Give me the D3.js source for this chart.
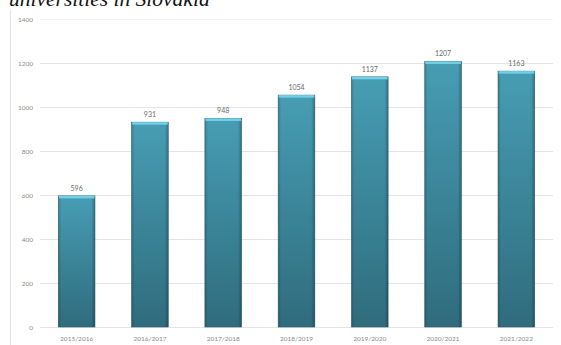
<!DOCTYPE html>
<html>
<head>
<meta charset="utf-8">
<script src="https://cdn.jsdelivr.net/npm/d3@7"></script>
<style>
  html, body { margin: 0; padding: 0; background: #fff; }
  svg { display: block; }
</style>
</head>
<body>
<svg id="chart" width="561" height="345"></svg>
<script>
// Academic years and the student counts shown above each bar
const years = ["2015/2016", "2016/2017", "2017/2018", "2018/2019", "2019/2020", "2020/2021", "2021/2022"];
const counts = [596, 931, 948, 1054, 1137, 1207, 1163];
const yTicks = [0, 200, 400, 600, 800, 1000, 1200, 1400];

const svg = d3.select("#chart");
const W = 561, H = 345;
const plot = { left: 40, right: 553, top: 19, bottom: 327 };

const x = d3.scaleBand().domain(years).range([plot.left, plot.right]).paddingInner(0.5).paddingOuter(0.25);
const y = d3.scaleLinear().domain([0, 1400]).range([plot.bottom, plot.top]);

// Title, running off the top edge of the frame
svg.append("text")
  .attr("x", 9).attr("y", 6)
  .attr("font-family", "Liberation Serif, Times New Roman, serif")
  .attr("font-style", "italic")
  .attr("font-size", 21.5)
  .attr("fill", "#111")
  .text("universities in Slovakia");

// Chart frame edge on the left
svg.append("line")
  .attr("x1", 10.5).attr("x2", 10.5).attr("y1", 10).attr("y2", H)
  .attr("stroke", "#e2e2e2").attr("stroke-width", 1);

// Gradients for the bars
const defs = svg.append("defs");
const g1 = defs.append("linearGradient").attr("id", "barFill").attr("x1", 0).attr("x2", 0).attr("y1", 0).attr("y2", 1);
g1.append("stop").attr("offset", "0%").attr("stop-color", "#479db4");
g1.append("stop").attr("offset", "100%").attr("stop-color", "#2f6c7d");
const g2 = defs.append("linearGradient").attr("id", "barSide").attr("x1", 0).attr("x2", 1).attr("y1", 0).attr("y2", 0);
g2.append("stop").attr("offset", "0%").attr("stop-color", "#000").attr("stop-opacity", 0.18);
g2.append("stop").attr("offset", "8%").attr("stop-color", "#000").attr("stop-opacity", 0);
g2.append("stop").attr("offset", "90%").attr("stop-color", "#000").attr("stop-opacity", 0);
g2.append("stop").attr("offset", "100%").attr("stop-color", "#000").attr("stop-opacity", 0.25);

// Gridlines and y axis
const yAxis = d3.axisLeft(y).tickValues(yTicks).tickSize(-(plot.right - plot.left)).tickPadding(7).tickFormat(d3.format("d"));
const ya = svg.append("g").attr("transform", `translate(${plot.left},0)`).call(yAxis);
ya.select(".domain").remove();
ya.selectAll(".tick line").attr("stroke", "#e4e4e4").attr("stroke-width", 1);
ya.selectAll(".tick").filter(d => d === 1400).select("line").attr("stroke", "#f3f3f3");
ya.selectAll(".tick text")
  .attr("fill", "#8a8a8a")
  .attr("font-family", "Lato, Open Sans, sans-serif")
  .attr("font-size", 6.5);

// Bars
const bars = svg.append("g");
bars.selectAll("rect.bar").data(counts).join("rect")
  .attr("class", "bar")
  .attr("x", (d, i) => x(years[i]))
  .attr("width", x.bandwidth())
  .attr("y", d => y(d))
  .attr("height", d => y(0) - y(d))
  .attr("fill", "url(#barFill)")
  .attr("stroke", "#2b6372").attr("stroke-width", 0.6);
bars.selectAll("rect.side").data(counts).join("rect")
  .attr("class", "side")
  .attr("x", (d, i) => x(years[i]))
  .attr("width", x.bandwidth())
  .attr("y", d => y(d))
  .attr("height", d => y(0) - y(d))
  .attr("fill", "url(#barSide)");
bars.selectAll("rect.cap").data(counts).join("rect")
  .attr("class", "cap")
  .attr("x", (d, i) => x(years[i]) + 0.5)
  .attr("width", x.bandwidth() - 1)
  .attr("y", d => y(d))
  .attr("height", 2.5)
  .attr("fill", "#72d0e8");

// Value labels
svg.append("g").selectAll("text").data(counts).join("text")
  .attr("x", (d, i) => x(years[i]) + x.bandwidth() / 2)
  .attr("y", d => y(d) - 5)
  .attr("text-anchor", "middle")
  .attr("fill", "#6a6a6a")
  .attr("font-family", "Lato, Open Sans, sans-serif")
  .attr("font-size", 7)
  .text(d => d);

// X axis labels
const xAxis = d3.axisBottom(x).tickSize(0).tickPadding(9);
const xa = svg.append("g").attr("transform", `translate(0,${plot.bottom})`).call(xAxis);
xa.select(".domain").remove();
xa.selectAll(".tick text")
  .attr("fill", "#8a8a8a")
  .attr("font-family", "Lato, Open Sans, sans-serif")
  .attr("font-size", 6.5);
</script>
</body>
</html>
